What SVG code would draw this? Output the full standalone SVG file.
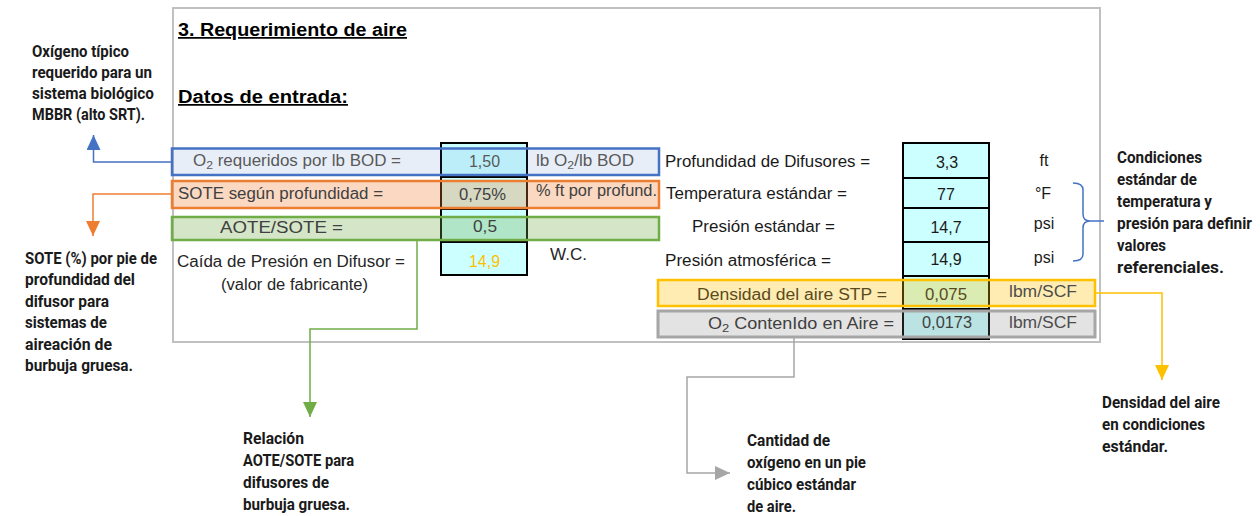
<svg xmlns="http://www.w3.org/2000/svg" width="1260" height="516" viewBox="0 0 1260 516">
<defs>
<style>
.t{font-family:"Liberation Sans",Arial,sans-serif;font-size:16px;}
.h{font-family:"Liberation Sans",Arial,sans-serif;font-size:17.5px;font-weight:bold;text-decoration:underline;fill:#000;}
.a{font-family:Roboto,"DejaVu Sans Condensed",sans-serif;font-size:16.5px;font-weight:bold;fill:#1a1a1a;}
.cell{fill:#ccffff;stroke:#000;stroke-width:2;}
.c{text-anchor:middle;}
.sub{font-size:11.5px;}
.ln{fill:none;stroke-width:1.5;}
</style>
<marker id="mb" markerUnits="userSpaceOnUse" markerWidth="15" markerHeight="14" refX="15" refY="7" orient="auto"><path d="M0,0 L15,7 L0,14 z" fill="#4472c4"/></marker>
<marker id="mo" markerUnits="userSpaceOnUse" markerWidth="15" markerHeight="14" refX="15" refY="7" orient="auto"><path d="M0,0 L15,7 L0,14 z" fill="#ed7d31"/></marker>
<marker id="mg" markerUnits="userSpaceOnUse" markerWidth="15" markerHeight="14" refX="15" refY="7" orient="auto"><path d="M0,0 L15,7 L0,14 z" fill="#70ad47"/></marker>
<marker id="mk" markerUnits="userSpaceOnUse" markerWidth="15" markerHeight="14" refX="15" refY="7" orient="auto"><path d="M0,0 L15,7 L0,14 z" fill="#a6a6a6"/></marker>
<marker id="my" markerUnits="userSpaceOnUse" markerWidth="15" markerHeight="14" refX="15" refY="7" orient="auto"><path d="M0,0 L15,7 L0,14 z" fill="#ffc000"/></marker>
</defs>
<rect width="1260" height="516" fill="#fff"/>

<g id="frame">
<rect x="173" y="8" width="927" height="334" fill="none" stroke="#c0c0c0" stroke-width="2"/>
<text class="h" x="178" y="36" textLength="229" lengthAdjust="spacingAndGlyphs">3. Requerimiento de aire</text>
<text class="h" x="178" y="103" textLength="170" lengthAdjust="spacingAndGlyphs">Datos de entrada:</text>
</g>

<g id="value-cells-left">
<rect class="cell" x="441" y="143" width="86" height="34"/>
<rect class="cell" x="441" y="177" width="86" height="32"/>
<rect class="cell" x="441" y="209" width="86" height="33"/>
<rect class="cell" x="441" y="242" width="86" height="33"/>
</g>
<g id="value-cells-right">
<rect class="cell" x="903" y="143" width="86" height="35"/>
<rect class="cell" x="903" y="178" width="86" height="30"/>
<rect class="cell" x="903" y="208" width="86" height="34"/>
<rect class="cell" x="903" y="242" width="86" height="34"/>
<rect class="cell" x="903" y="276" width="86" height="33"/>
<rect class="cell" x="903" y="309" width="86" height="30"/>
</g>

<g id="row-o2-requeridos">
<rect x="172" y="148.5" width="487" height="26.5" fill="#4472c4" fill-opacity="0.12" stroke="#4472c4" stroke-width="2.5"/>
<text class="t" x="193" y="166" fill="#595959" textLength="208" lengthAdjust="spacingAndGlyphs">O<tspan class="sub" dy="3">2</tspan><tspan dy="-3"> requeridos  por lb BOD =</tspan></text>
<text class="t c" x="484.5" y="167" fill="#595959" textLength="31" lengthAdjust="spacingAndGlyphs">1,50</text>
<text class="t" x="536" y="166" fill="#595959" textLength="98" lengthAdjust="spacingAndGlyphs">lb O<tspan class="sub" dy="3">2</tspan><tspan dy="-3">/lb BOD</tspan></text>
</g>

<g id="row-sote">
<rect x="172" y="181" width="487" height="27" fill="#ed7d31" fill-opacity="0.3" stroke="#ed7d31" stroke-width="2.5"/>
<text class="t" x="178" y="199" fill="#404040" textLength="205" lengthAdjust="spacingAndGlyphs">SOTE según profundidad =</text>
<text class="t c" x="482.5" y="200" fill="#3f3f3f" textLength="47" lengthAdjust="spacingAndGlyphs">0,75%</text>
<text class="t" x="536" y="196" fill="#404040" textLength="121" lengthAdjust="spacingAndGlyphs">%  ft por profund.</text>
</g>

<g id="row-aote">
<rect x="172" y="217" width="487" height="23" fill="#70ad47" fill-opacity="0.3" stroke="#70ad47" stroke-width="2.5"/>
<text class="t" x="220" y="233" fill="#404040" textLength="123" lengthAdjust="spacingAndGlyphs">AOTE/SOTE    =</text>
<text class="t c" x="485" y="232" fill="#3f3f3f" textLength="24" lengthAdjust="spacingAndGlyphs">0,5</text>
</g>

<g id="row-caida">
<text class="t" x="177" y="267" fill="#262626" textLength="228" lengthAdjust="spacingAndGlyphs">Caída de Presión en Difusor =</text>
<text class="t" x="221" y="290" fill="#262626" textLength="147" lengthAdjust="spacingAndGlyphs">(valor de fabricante)</text>
<text class="t c" x="484.5" y="267" fill="#ffc000" textLength="31" lengthAdjust="spacingAndGlyphs">14,9</text>
<text class="t" x="550" y="260" fill="#262626" textLength="37" lengthAdjust="spacingAndGlyphs">W.C.</text>
</g>

<g id="row-profundidad">
<text class="t" x="665" y="167" fill="#1a1a1a" textLength="205" lengthAdjust="spacingAndGlyphs">Profundidad de Difusores =</text>
<text class="t c" x="947" y="168" fill="#1a1a1a">3,3</text>
<text class="t c" x="1044" y="166" fill="#1a1a1a">ft</text>
</g>
<g id="row-temperatura">
<text class="t" x="666" y="199" fill="#1a1a1a" textLength="181" lengthAdjust="spacingAndGlyphs">Temperatura estándar =</text>
<text class="t c" x="946" y="200" fill="#1a1a1a">77</text>
<text class="t c" x="1043" y="199" fill="#1a1a1a">°F</text>
</g>
<g id="row-presion-std">
<text class="t" x="692" y="232" fill="#1a1a1a" textLength="143" lengthAdjust="spacingAndGlyphs">Presión estándar =</text>
<text class="t c" x="946" y="233" fill="#1a1a1a">14,7</text>
<text class="t c" x="1044" y="229" fill="#1a1a1a">psi</text>
</g>
<g id="row-presion-atm">
<text class="t" x="665" y="266" fill="#1a1a1a" textLength="166" lengthAdjust="spacingAndGlyphs">Presión atmosférica =</text>
<text class="t c" x="946" y="265" fill="#1a1a1a">14,9</text>
<text class="t c" x="1044" y="263" fill="#1a1a1a">psi</text>
</g>

<g id="row-densidad">
<rect x="658" y="280" width="437" height="26" fill="#ffc000" fill-opacity="0.3" stroke="#ffc000" stroke-width="2.5"/>
<text class="t" x="697" y="300" fill="#5a4a20" textLength="190" lengthAdjust="spacingAndGlyphs">Densidad del aire STP  =</text>
<text class="t c" x="946" y="300" fill="#5a4a20" textLength="42" lengthAdjust="spacingAndGlyphs">0,075</text>
<text class="t c" x="1043" y="297" fill="#4d4d4d" textLength="68" lengthAdjust="spacingAndGlyphs">lbm/SCF</text>
</g>

<g id="row-o2-contenido">
<rect x="658" y="311" width="437" height="26" fill="#7f7f7f" fill-opacity="0.22" stroke="#a6a6a6" stroke-width="3"/>
<text class="t" x="708" y="329" fill="#404040" textLength="186" lengthAdjust="spacingAndGlyphs">O<tspan class="sub" dy="3">2</tspan><tspan dy="-3"> ContenIdo en Aire =</tspan></text>
<text class="t c" x="947" y="328" fill="#404040" textLength="50" lengthAdjust="spacingAndGlyphs">0,0173</text>
<text class="t c" x="1043" y="328" fill="#4d4d4d" textLength="68" lengthAdjust="spacingAndGlyphs">lbm/SCF</text>
</g>

<g id="connectors">
<path class="ln" d="M173,162 H93.5 V135" stroke="#4472c4" marker-end="url(#mb)"/>
<path class="ln" d="M173,194 H93 V236" stroke="#ed7d31" marker-end="url(#mo)"/>
<path class="ln" d="M417,240 V329 H310 V417" stroke="#70ad47" marker-end="url(#mg)"/>
<path class="ln" d="M794,337 V377 H687 V473 H730" stroke="#a6a6a6" marker-end="url(#mk)"/>
<path class="ln" d="M1095,293 H1162 V380" stroke="#ffc000" marker-end="url(#my)"/>
<path class="ln" d="M1073,183 Q1083,183 1083,190 V214 Q1083,221 1090,221 Q1083,221 1083,228 V254 Q1083,261 1073,261 M1088,221 H1104" stroke="#4472c4"/>
</g>

<g id="note-oxigeno">
<text class="a" x="32" y="57" textLength="97" lengthAdjust="spacingAndGlyphs">Oxígeno típico</text>
<text class="a" x="32" y="78" textLength="120" lengthAdjust="spacingAndGlyphs">requerido para un</text>
<text class="a" x="32" y="99" textLength="122" lengthAdjust="spacingAndGlyphs">sistema biológico</text>
<text class="a" x="32" y="120" textLength="113" lengthAdjust="spacingAndGlyphs">MBBR (alto SRT).</text>
</g>
<g id="note-sote">
<text class="a" x="25" y="264" textLength="132" lengthAdjust="spacingAndGlyphs">SOTE (%) por pie de</text>
<text class="a" x="25" y="285" textLength="110" lengthAdjust="spacingAndGlyphs">profundidad del</text>
<text class="a" x="25" y="307" textLength="84" lengthAdjust="spacingAndGlyphs">difusor para</text>
<text class="a" x="25" y="328" textLength="82" lengthAdjust="spacingAndGlyphs">sistemas de</text>
<text class="a" x="25" y="350" textLength="87" lengthAdjust="spacingAndGlyphs">aireación de</text>
<text class="a" x="25" y="371" textLength="108" lengthAdjust="spacingAndGlyphs">burbuja gruesa.</text>
</g>
<g id="note-aote">
<text class="a" x="243" y="444" textLength="61" lengthAdjust="spacingAndGlyphs">Relación</text>
<text class="a" x="243" y="466" textLength="111" lengthAdjust="spacingAndGlyphs">AOTE/SOTE para</text>
<text class="a" x="243" y="488" textLength="86" lengthAdjust="spacingAndGlyphs">difusores de</text>
<text class="a" x="243" y="510" textLength="107" lengthAdjust="spacingAndGlyphs">burbuja gruesa.</text>
</g>
<g id="note-cantidad">
<text class="a" x="747" y="446" textLength="83" lengthAdjust="spacingAndGlyphs">Cantidad de</text>
<text class="a" x="747" y="468" textLength="119" lengthAdjust="spacingAndGlyphs">oxígeno en un pie</text>
<text class="a" x="747" y="490" textLength="109" lengthAdjust="spacingAndGlyphs">cúbico estándar</text>
<text class="a" x="747" y="512" textLength="49" lengthAdjust="spacingAndGlyphs">de aire.</text>
</g>
<g id="note-densidad">
<text class="a" x="1102" y="408" textLength="118" lengthAdjust="spacingAndGlyphs">Densidad del aire</text>
<text class="a" x="1102" y="430" textLength="103" lengthAdjust="spacingAndGlyphs">en condiciones</text>
<text class="a" x="1102" y="452" textLength="66" lengthAdjust="spacingAndGlyphs">estándar.</text>
</g>
<g id="note-condiciones">
<text class="a" x="1117" y="163" textLength="85" lengthAdjust="spacingAndGlyphs">Condiciones</text>
<text class="a" x="1117" y="185" textLength="80" lengthAdjust="spacingAndGlyphs">estándar de</text>
<text class="a" x="1117" y="207" textLength="95" lengthAdjust="spacingAndGlyphs">temperatura y</text>
<text class="a" x="1117" y="229" textLength="135" lengthAdjust="spacingAndGlyphs">presión para definir</text>
<text class="a" x="1117" y="251" textLength="49" lengthAdjust="spacingAndGlyphs">valores</text>
<text class="a" x="1117" y="273" textLength="107" lengthAdjust="spacingAndGlyphs">referenciales.</text>
</g>
</svg>
